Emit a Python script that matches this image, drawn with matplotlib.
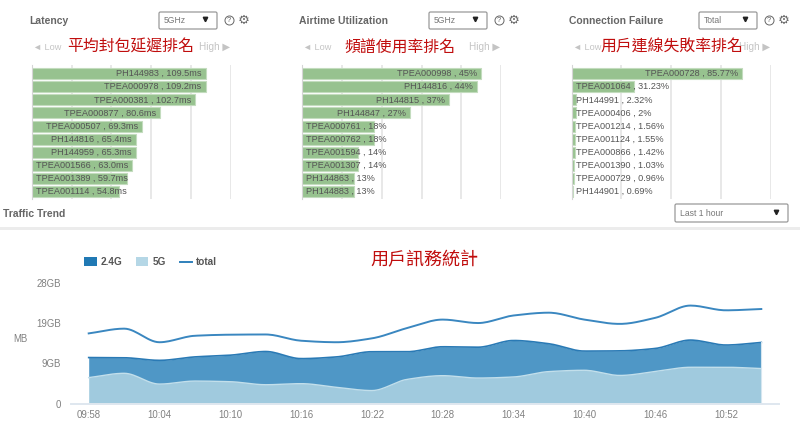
import numpy as np
import matplotlib
matplotlib.use('Agg')
import matplotlib.pyplot as plt
from matplotlib.patches import FancyBboxPatch, Rectangle

plt.rcParams['font.family'] = ['Liberation Sans', 'DejaVu Sans']

# top rankings
latency_names = ['PH144983', 'TPEA000978', 'TPEA000381', 'TPEA000877', 'TPEA000507',
                 'PH144816', 'PH144959', 'TPEA001566', 'TPEA001389', 'TPEA001114']
latency_values = [109.5, 109.2, 102.7, 80.6, 69.3, 65.4, 65.3, 63.0, 59.7, 54.8]
latency_labels = ['109.5ms', '109.2ms', '102.7ms', '80.6ms', '69.3ms',
                  '65.4ms', '65.3ms', '63.0ms', '59.7ms', '54.8ms']
latency_ticks = [0, 25, 50, 75, 100, 125]

airtime_names = ['TPEA000998', 'PH144816', 'PH144815', 'PH144847', 'TPEA000761',
                 'TPEA000762', 'TPEA001594', 'TPEA001307', 'PH144863', 'PH144883']
airtime_values = [45, 44, 37, 27, 18, 18, 14, 14, 13, 13]
airtime_labels = ['45%', '44%', '37%', '27%', '18%', '18%', '14%', '14%', '13%', '13%']
airtime_ticks = [0, 10, 20, 30, 40, 50]

failure_names = ['TPEA000728', 'TPEA001064', 'PH144991', 'TPEA000406', 'TPEA001214',
                 'TPEA001124', 'TPEA000866', 'TPEA001390', 'TPEA000729', 'PH144901']
failure_values = [85.77, 31.23, 2.32, 2, 1.56, 1.55, 1.42, 1.03, 0.96, 0.69]
failure_labels = ['85.77%', '31.23%', '2.32%', '2%', '1.56%',
                  '1.55%', '1.42%', '1.03%', '0.96%', '0.69%']
failure_ticks = [0, 25, 50, 75, 100]

# traffic trend, GB, one sample every 3 minutes from 09:58
minutes = [0, 3, 6, 9, 12, 15, 18, 21, 24, 27, 30, 33, 36, 39, 42, 45, 48, 51, 54, 57]
traffic_5g = [6.0, 7.0, 4.5, 5.2, 5.05, 4.35, 4.6, 3.75, 3.0, 5.6,
              6.45, 5.9, 6.15, 7.4, 7.7, 6.5, 7.4, 8.4, 8.4, 8.1]
traffic_24g = [4.65, 3.6, 5.5, 5.6, 6.15, 7.7, 5.8, 7.05, 9.0, 6.4,
               6.7, 7.15, 8.45, 6.45, 4.45, 5.7, 5.35, 6.3, 5.15, 6.05]
traffic_total = [16.25, 17.35, 14.2, 15.7, 15.95, 16.0, 14.55, 14.2, 15.1, 17.5,
                 19.45, 18.65, 20.4, 21.05, 19.45, 18.45, 19.85, 22.7, 21.6, 21.9]
time_ticks = [0, 6, 12, 18, 24, 30, 36, 42, 48, 54]
time_labels = ['09:58', '10:04', '10:10', '10:16', '10:22',
               '10:28', '10:34', '10:40', '10:46', '10:52']
gb_ticks = [0, 28 / 3, 56 / 3, 28]
gb_labels = ['0', '9GB', '19GB', '28GB']

W, H = 800, 440
RED = '#c00d0d'
GRAY = '#666666'
CJK = ['Noto Sans CJK TC', 'DejaVu Sans']


def axes_px(fig, left, top, right, bottom):
    return fig.add_axes([left / W, 1 - bottom / H, (right - left) / W, (bottom - top) / H])


def smooth(x, y):
    # same idea as the monotone curve the dashboard draws
    x = np.asarray(x, float)
    y = np.asarray(y, float)
    d = np.diff(y) / np.diff(x)
    m = np.zeros(len(y))
    m[0], m[-1] = d[0], d[-1]
    for i in range(1, len(y) - 1):
        if d[i - 1] * d[i] > 0:
            m[i] = 2 * d[i - 1] * d[i] / (d[i - 1] + d[i])
    xs, ys = [], []
    for i in range(len(x) - 1):
        h = x[i + 1] - x[i]
        t = np.linspace(0, 1, 16)
        ys.append((2 * t**3 - 3 * t**2 + 1) * y[i] + (t**3 - 2 * t**2 + t) * h * m[i]
                  + (-2 * t**3 + 3 * t**2) * y[i + 1] + (t**3 - t**2) * h * m[i + 1])
        xs.append(x[i] + t * h)
    return np.concatenate(xs), np.concatenate(ys)


def rank_chart(fig, left, right, names, values, labels, ticks):
    ax = axes_px(fig, left, 65, right, 199)
    rows = np.arange(len(values))
    ax.barh(rows, values, height=0.84, color='#97c28f', edgecolor='#c3dcbe', linewidth=0.8, zorder=2)
    ax.set_xlim(ticks[0], ticks[-1])
    ax.set_ylim(9.56, -0.66)
    ax.set_xticks(ticks)
    ax.set_yticks([])
    ax.tick_params(length=0, labelbottom=False)
    ax.grid(axis='x', color='#e4e4e4', linewidth=1.2, zorder=0)
    for s in ['top', 'right', 'bottom']:
        ax.spines[s].set_visible(False)
    ax.spines['left'].set_color('#d5d5d5')

    renderer = fig.canvas.get_renderer()
    px_per_unit = (right - left) / ticks[-1]
    for i, (n, v, l) in enumerate(zip(names, values, labels)):
        text = ax.annotate(f'{n} , {l}', (v, i), xytext=(-2.9, 0), textcoords='offset points',
                           ha='right', va='center', fontsize=6.6, color='#555555', zorder=3)
        # long enough bars hold the label, the others start it at the axis
        if text.get_window_extent(renderer).width + 6 > v * px_per_unit:
            text.remove()
            ax.annotate(f'{n} , {l}', (0, i), xytext=(3, 0), textcoords='offset points',
                        ha='left', va='center', fontsize=6.6, color='#555555', zorder=3)


def dropdown(over, left, top, right, bottom, label):
    over.add_patch(FancyBboxPatch((left + 1, top + 1), right - left - 2, bottom - top - 2,
                                  boxstyle='round,pad=1,rounding_size=1.5',
                                  facecolor='white', edgecolor='#9a9a9a', linewidth=0.9))
    over.text(left + 5, (top + bottom) / 2, label, fontsize=6.2, color='#777777', va='center')
    over.plot([right - 12], [(top + bottom) / 2 - 1], marker='v', markersize=3.2, color='#222222')


def header(over, x, title, option, low_x, high_x, zh, zh_x):
    over.text(x, 21, title, fontsize=7.5, fontweight='bold', color=GRAY, va='center')
    dropdown(over, x + 130, 12, x + 188, 29, option)
    over.text(x + 200, 20, '?', fontsize=5.5, color=GRAY, ha='center', va='center')
    over.plot([x + 200], [20], marker='o', markersize=6.5, markerfacecolor='none',
              markeredgecolor=GRAY, markeredgewidth=0.7)
    over.text(x + 215, 20, '\u2699', fontsize=9.5, color=GRAY, ha='center', va='center',
              family='DejaVu Sans')
    over.text(low_x, 47, '\u25c4 Low', fontsize=6.6, color='#c4c4c4', va='center',
              family=['Liberation Sans', 'DejaVu Sans'])
    over.text(high_x, 47, 'High \u25b6', fontsize=7.2, color='#c4c4c4', va='center', ha='right',
              family=['Liberation Sans', 'DejaVu Sans'])
    over.text(zh_x, 47, zh, fontsize=11.4, fontweight='medium', color=RED, va='center', ha='center', family=CJK)


fig = plt.figure(figsize=(8, 4.4), dpi=100)
fig.canvas.draw()

rank_chart(fig, 31.7, 230.7, latency_names, latency_values, latency_labels, latency_ticks)
rank_chart(fig, 302, 501.3, airtime_names, airtime_values, airtime_labels, airtime_ticks)
rank_chart(fig, 571.7, 770.7, failure_names, failure_values, failure_labels, failure_ticks)

# trend chart
ax = axes_px(fig, 71, 282.7, 779, 403.5)
low = np.array(traffic_5g)
top = low + np.array(traffic_24g)
xs, low_s = smooth(minutes, low)
_, top_s = smooth(minutes, top)
_, total_s = smooth(minutes, traffic_total)
ax.fill_between(xs, 0, low_s, color='#a0cade', linewidth=0)
ax.fill_between(xs, low_s, top_s, color='#4f97c6', linewidth=0)
ax.plot(xs, low_s, color='#c2dfeb', linewidth=1)
ax.plot(xs, top_s, color='#2a7ab5', linewidth=1.2)
ax.plot(xs, total_s, color='#3a87c0', linewidth=1.4)
ax.plot([minutes[-1], minutes[-1]], [0, top[-1]], color='#d5e6f0', linewidth=0.8)
ax.set_xlim(-1.5, 58.5)
ax.set_ylim(0, 28)
ax.set_xticks(time_ticks, time_labels)
ax.set_yticks(gb_ticks, gb_labels)
ax.tick_params(length=0, labelsize=6.9, labelcolor='#808080')
ax.tick_params(axis='x', pad=5)
ax.tick_params(axis='y', pad=7)
for s in ['top', 'right', 'left']:
    ax.spines[s].set_visible(False)
ax.spines['bottom'].set_color('#dfe7ef')
ax.spines['bottom'].set_linewidth(1.4)

# everything around the charts is placed in pixels
over = fig.add_axes([0, 0, 1, 1], zorder=5)
over.set_xlim(0, W)
over.set_ylim(H, 0)
over.axis('off')

header(over, 29, 'Latency', '5GHz', 33, 230, '平均封包延遲排名', 131)
header(over, 299, 'Airtime Utilization', '5GHz', 303, 500, '頻譜使用率排名', 400)
header(over, 569, 'Connection Failure', 'Total', 573, 770, '用戶連線失敗率排名', 672)

over.text(3, 214, 'Traffic Trend', fontsize=7.5, fontweight='bold', color=GRAY, va='center')
dropdown(over, 675, 204, 788, 222, 'Last 1 hour')
over.add_patch(Rectangle((0, 227), W, 3.5, facecolor='#ececec', edgecolor='none'))

over.text(13, 339, 'MB', fontsize=6.9, color='#808080', va='center')
over.add_patch(Rectangle((84, 257), 13, 9, facecolor='#2079b4', edgecolor='none'))
over.text(101, 262, '2.4G', fontsize=7.2, fontweight='bold', color='#555555', va='center')
over.add_patch(Rectangle((136, 257), 12, 9, facecolor='#b5d7e6', edgecolor='none'))
over.text(153, 262, '5G', fontsize=7.2, fontweight='bold', color='#555555', va='center')
over.plot([180, 192], [262, 262], color='#2f80bb', linewidth=1.4)
over.text(196, 262, 'total', fontsize=7.2, fontweight='bold', color='#555555', va='center')
over.text(424, 260, '用戶訊務統計', fontsize=13, fontweight='medium', color=RED, va='center', ha='center', family=CJK)

fig.savefig('out.png', dpi=100)
